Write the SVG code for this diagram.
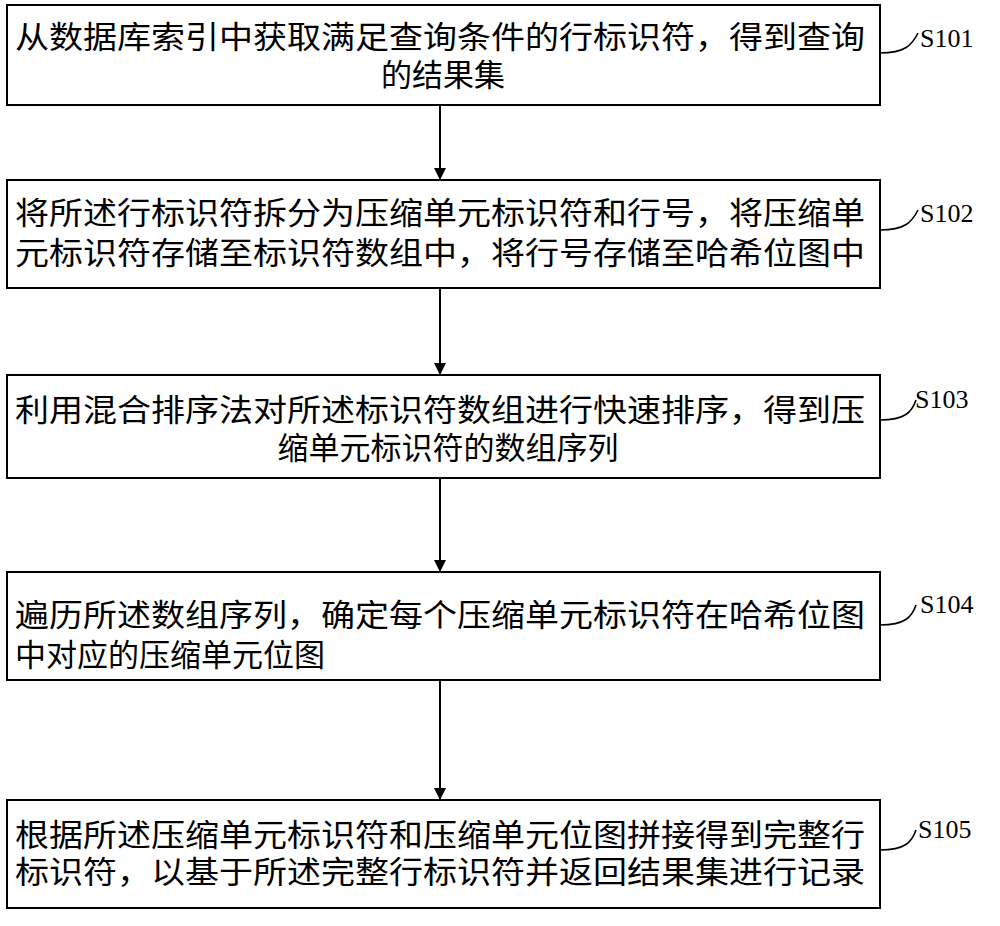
<svg xmlns="http://www.w3.org/2000/svg" width="1000" height="926" viewBox="0 0 1000 926">
<defs>
<marker id="a2" markerWidth="12" markerHeight="16" refX="12" refY="6" orient="auto" markerUnits="userSpaceOnUse"><path d="M0,0 L12,6 L0,12 Z" fill="#000"/></marker>
<style>
rect{fill:#fff;stroke:#000;stroke-width:2}
.t{font-family:"Liberation Serif","Noto Sans CJK SC",serif;font-size:31px;fill:#000}
.l{font-family:"Liberation Serif",serif;font-size:26px;fill:#000}
.c{fill:none;stroke:#000;stroke-width:1.6}
</style>
</defs>
<g id="connectors">
<line x1="440" y1="105" x2="440" y2="180" stroke="#000" stroke-width="2" marker-end="url(#a2)"/>
<line x1="440" y1="288" x2="440" y2="375" stroke="#000" stroke-width="2" marker-end="url(#a2)"/>
<line x1="440" y1="478" x2="440" y2="572" stroke="#000" stroke-width="2" marker-end="url(#a2)"/>
<line x1="440" y1="680" x2="440" y2="800" stroke="#000" stroke-width="2" marker-end="url(#a2)"/>
<path class="c" d="M880,53 C905,53 912,45 918,33"/>
<path class="c" d="M880,230 C905,230 912,222 918,210"/>
<path class="c" d="M880,420 C905,420 912,412 916,400"/>
<path class="c" d="M880,625 C905,625 912,617 916,605"/>
<path class="c" d="M880,850 C905,850 912,842 916,830"/>
</g>
<g id="s101"><rect x="7" y="5" width="873" height="100"/>
<text class="t" x="15" y="48" textLength="850" lengthAdjust="spacingAndGlyphs">从数据库索引中获取满足查询条件的行标识符，得到查询</text>
<text class="t" x="443" y="86" text-anchor="middle">的结果集</text>
<text class="l" x="920" y="47">S101</text></g>
<g id="s102"><rect x="7" y="180" width="873" height="108"/>
<text class="t" x="15" y="224" textLength="850" lengthAdjust="spacingAndGlyphs">将所述行标识符拆分为压缩单元标识符和行号，将压缩单</text>
<text class="t" x="15" y="264" textLength="850" lengthAdjust="spacingAndGlyphs">元标识符存储至标识符数组中，将行号存储至哈希位图中</text>
<text class="l" x="920" y="222">S102</text></g>
<g id="s103"><rect x="7" y="375" width="873" height="103"/>
<text class="t" x="15" y="421" textLength="850" lengthAdjust="spacingAndGlyphs">利用混合排序法对所述标识符数组进行快速排序，得到压</text>
<text class="t" x="448" y="459" text-anchor="middle">缩单元标识符的数组序列</text>
<text class="l" x="915" y="408">S103</text></g>
<g id="s104"><rect x="7" y="572" width="873" height="108"/>
<text class="t" x="15" y="626" textLength="850" lengthAdjust="spacingAndGlyphs">遍历所述数组序列，确定每个压缩单元标识符在哈希位图</text>
<text class="t" x="15" y="666">中对应的压缩单元位图</text>
<text class="l" x="920" y="613">S104</text></g>
<g id="s105"><rect x="7" y="800" width="873" height="108"/>
<text class="t" x="15" y="846" textLength="850" lengthAdjust="spacingAndGlyphs">根据所述压缩单元标识符和压缩单元位图拼接得到完整行</text>
<text class="t" x="15" y="883" textLength="850" lengthAdjust="spacingAndGlyphs">标识符，以基于所述完整行标识符并返回结果集进行记录</text>
<text class="l" x="918" y="838">S105</text></g>
</svg>
